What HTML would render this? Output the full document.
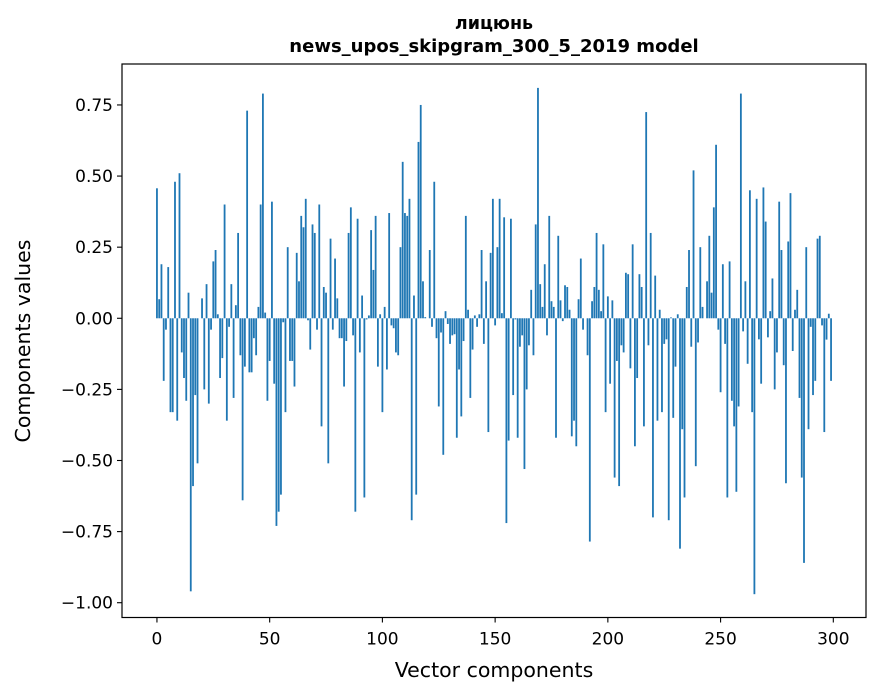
<!DOCTYPE html>
<html><head><meta charset="utf-8"><style>
body{margin:0;background:#fff;}
svg{display:block;font-family:"DejaVu Sans","Liberation Sans",sans-serif;}
</style></head><body>
<svg id="chart" width="880" height="696">
<text x="494" y="29" text-anchor="middle" font-size="17.5" font-weight="bold">лицюнь</text>
<text x="494" y="52" text-anchor="middle" font-size="18" font-weight="bold">news_upos_skipgram_300_5_2019 model</text>
<g id="bars"></g>
<rect x="122" y="64" width="744" height="553.5" fill="none" stroke="#000" stroke-width="1.2"/>
<g id="xticks"></g>
<g id="yticks"></g>
<text x="494" y="677" text-anchor="middle" font-size="20.5">Vector components</text>
<text transform="translate(30,341) rotate(-90)" text-anchor="middle" font-size="20.5">Components values</text>
</svg>
<script>
const values = [
0.457,0.067,0.19,-0.22,-0.04,0.18,-0.33,-0.33,0.48,-0.36,
0.51,-0.12,-0.21,-0.29,0.09,-0.96,-0.59,-0.27,-0.51,0.0,
0.07,-0.25,0.12,-0.30,-0.04,0.20,0.24,0.014,-0.21,-0.14,
0.40,-0.36,-0.03,0.12,-0.28,0.046,0.30,-0.13,-0.64,-0.17,
0.73,-0.19,-0.19,-0.07,-0.13,0.04,0.40,0.79,0.02,-0.29,
-0.15,0.41,-0.23,-0.73,-0.68,-0.62,-0.014,-0.33,0.25,-0.15,
-0.15,-0.24,0.23,0.13,0.36,0.32,0.42,-0.007,-0.11,0.33,
0.30,-0.04,0.40,-0.38,0.11,0.09,-0.51,0.28,-0.04,0.21,
0.07,-0.07,-0.07,-0.24,-0.08,0.30,0.39,-0.06,-0.68,0.35,
-0.12,0.08,-0.63,-0.004,0.01,0.31,0.17,0.36,-0.17,0.014,
-0.33,0.04,-0.18,0.37,-0.025,-0.035,-0.12,-0.13,0.25,0.55,
0.37,0.36,0.42,-0.71,0.08,-0.62,0.62,0.75,0.13,0.004,
0.0,0.24,-0.03,0.48,-0.07,-0.31,-0.05,-0.48,0.025,-0.02,
-0.09,-0.06,-0.056,-0.42,-0.18,-0.345,-0.08,0.36,0.03,-0.28,
-0.11,0.01,-0.03,0.014,0.24,-0.09,0.13,-0.40,0.23,0.42,
-0.025,0.25,0.42,0.018,0.355,-0.72,-0.43,0.35,-0.27,-0.004,
-0.42,-0.10,-0.06,-0.53,-0.25,-0.095,0.10,-0.13,0.33,0.81,
0.12,0.04,0.19,-0.06,0.36,0.06,0.04,-0.42,0.29,0.063,
-0.01,0.116,0.11,0.03,-0.415,-0.36,-0.45,0.067,0.21,-0.04,
0.0,-0.13,-0.785,0.06,0.11,0.30,0.10,0.025,0.26,-0.33,
0.077,-0.23,0.063,-0.56,-0.15,-0.59,-0.095,-0.12,0.16,0.155,
-0.176,0.26,-0.45,-0.21,0.155,0.11,-0.38,0.725,-0.095,0.30,
-0.70,0.15,-0.36,0.03,-0.33,-0.09,-0.074,-0.71,0.003,-0.35,
-0.17,0.014,-0.81,-0.39,-0.63,0.11,0.24,-0.10,0.52,-0.52,
-0.085,0.25,0.04,0.0,0.13,0.29,0.09,0.39,0.61,-0.04,
-0.26,0.19,-0.09,-0.63,0.20,-0.29,-0.38,-0.61,-0.31,0.79,
-0.046,0.13,-0.16,0.45,-0.33,-0.97,0.42,-0.074,-0.23,0.46,
0.34,-0.067,0.025,0.14,-0.25,-0.12,0.41,0.24,-0.165,-0.58,
0.27,0.44,-0.115,0.03,0.10,-0.28,-0.56,-0.86,0.25,-0.39,
-0.03,-0.27,-0.22,0.28,0.29,-0.025,-0.40,-0.075,0.016,-0.22
];
const xTickValues = [0,50,100,150,200,250,300];
const yTickValues = [0.75,0.5,0.25,0,-0.25,-0.5,-0.75,-1.0];
const yTickLabels = ["0.75","0.50","0.25","0.00","\u22120.25","\u22120.50","\u22120.75","\u22121.00"];

const NS="http://www.w3.org/2000/svg";
const X0=122,X1=866,Y0=64,Y1=617.5;
const xMin=-15.5,xMax=314.5,yMin=-1.052,yMax=0.894;
function xs(v){return X0+(v-xMin)/(xMax-xMin)*(X1-X0);}
function ys(v){return Y1-(v-yMin)/(yMax-yMin)*(Y1-Y0);}

const bars=document.getElementById('bars');
values.forEach((v,i)=>{
  const r=document.createElementNS(NS,'rect');
  const xl=xs(i-0.4),xr=xs(i+0.4);
  const yt=ys(Math.max(v,0)),yb=ys(Math.min(v,0));
  r.setAttribute('x',xl);r.setAttribute('width',xr-xl);
  r.setAttribute('y',yt);r.setAttribute('height',Math.max(yb-yt,0));
  r.setAttribute('fill','#1f77b4');
  
  
  bars.appendChild(r);
});
const xt=document.getElementById('xticks');
xTickValues.forEach(v=>{
  const x=xs(v);
  const l=document.createElementNS(NS,'line');
  l.setAttribute('x1',x);l.setAttribute('x2',x);l.setAttribute('y1',Y1);l.setAttribute('y2',Y1+5);
  l.setAttribute('stroke','#000');l.setAttribute('stroke-width','1.1');
  
  
  xt.appendChild(l);
  const t=document.createElementNS(NS,'text');
  t.setAttribute('x',x);t.setAttribute('y',Y1+27);t.setAttribute('text-anchor','middle');t.setAttribute('font-size','17');
  t.textContent=v;
  
  
  xt.appendChild(t);
});
const yt=document.getElementById('yticks');
yTickValues.forEach((v,k)=>{
  const y=ys(v);
  const l=document.createElementNS(NS,'line');
  l.setAttribute('x1',X0-5);l.setAttribute('x2',X0);l.setAttribute('y1',y);l.setAttribute('y2',y);
  l.setAttribute('stroke','#000');l.setAttribute('stroke-width','1.1');
  
  
  yt.appendChild(l);
  const t=document.createElementNS(NS,'text');
  t.setAttribute('x',X0-9);t.setAttribute('y',y+6);t.setAttribute('text-anchor','end');t.setAttribute('font-size','17');
  t.textContent=yTickLabels[k];
  
  
  yt.appendChild(t);
});
</script>
</body></html>
